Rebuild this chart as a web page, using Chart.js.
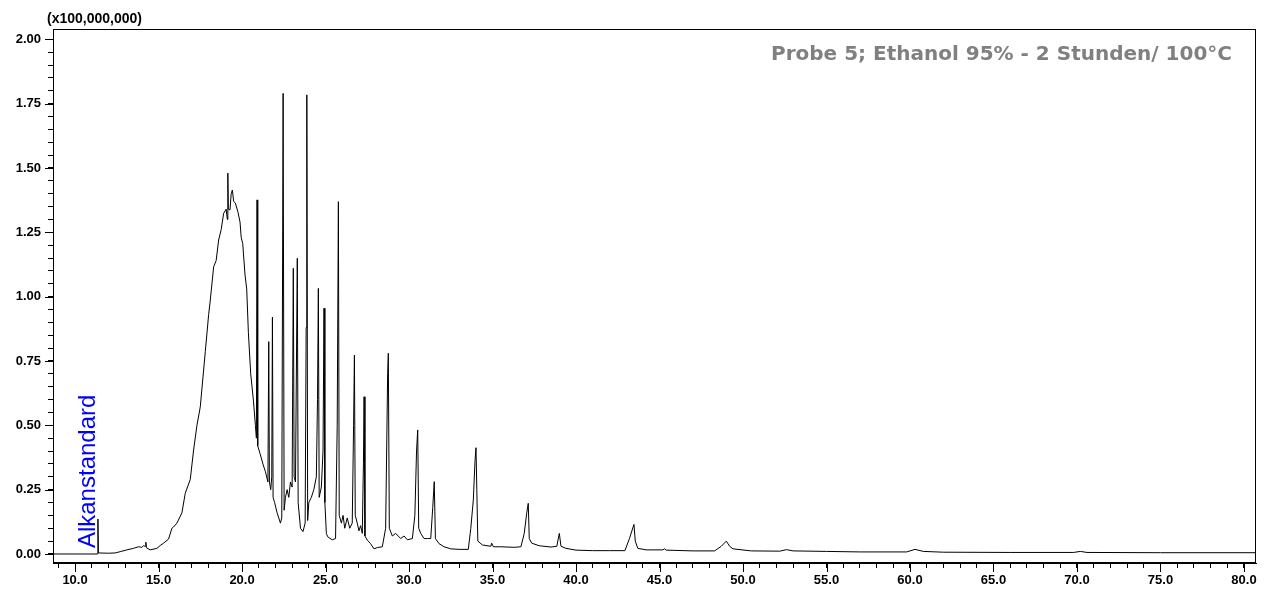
<!DOCTYPE html>
<html>
<head>
<meta charset="utf-8">
<script src="https://cdn.jsdelivr.net/npm/chart.js@4.4.1/dist/chart.umd.min.js"></script>
<style>
  html, body { margin: 0; padding: 0; background: #fff; }
  #wrap { width: 1271px; height: 593px; }
</style>
</head>
<body>
<div id="wrap"><canvas id="kromatogram" width="1271" height="593"></canvas></div>
<script>
// retention time (min) / signal (x100,000,000)
const waktuAwal = [8.7, 11.33, 11.37, 11.40, 12.0, 12.4, 12.7, 13.1, 13.5, 13.8, 14.0, 14.1, 14.2, 14.24, 14.28, 14.5, 14.9, 15.1, 15.3, 15.6, 15.8, 15.9, 16.1, 16.4, 16.6, 16.9, 17.1, 17.3, 17.5, 17.8, 18.0, 18.1, 18.3, 18.45, 18.6, 18.75, 18.9, 19.05, 19.12, 19.15, 19.18, 19.28, 19.35, 19.42, 19.5, 19.6, 19.75, 19.88, 19.95, 20.04, 20.18, 20.28, 20.38, 20.52, 20.68, 20.8, 20.86];
const sinyalAwal = [0, 0, 0.136, 0.004, 0.003, 0.004, 0.009, 0.016, 0.022, 0.028, 0.026, 0.032, 0.030, 0.046, 0.024, 0.016, 0.022, 0.033, 0.042, 0.058, 0.10, 0.105, 0.12, 0.16, 0.236, 0.29, 0.404, 0.50, 0.572, 0.786, 0.93, 0.987, 1.116, 1.14, 1.22, 1.26, 1.324, 1.34, 1.30, 1.48, 1.34, 1.337, 1.40, 1.414, 1.37, 1.364, 1.33, 1.29, 1.23, 1.207, 1.084, 1.03, 0.86, 0.70, 0.598, 0.50, 0.45];

const waktuTengah = [20.90, 20.94, 21.08, 21.25, 21.40, 21.55, 21.60, 21.64, 21.72, 21.78, 21.82, 21.86, 21.95, 22.10, 22.30, 22.38, 22.46, 22.52, 22.60, 22.70, 22.80, 22.90, 23.0, 23.07, 23.12, 23.20, 23.31, 23.36, 23.50, 23.65, 23.78, 23.84, 23.88, 23.93, 24.0, 24.15, 24.3, 24.45, 24.52, 24.57, 24.62, 24.75, 24.85, 24.91, 24.96, 25.05, 25.13, 25.40, 25.60, 25.70, 25.77, 25.82, 25.95, 26.05, 26.15, 26.30, 26.45, 26.60, 26.68, 26.73, 26.78, 26.9, 27.0, 27.1, 27.2, 27.27, 27.31, 27.36, 27.5, 27.7, 27.9, 28.1, 28.4, 28.6, 28.72, 28.76, 28.82];
const sinyalTengah = [1.376, 0.42, 0.39, 0.35, 0.32, 0.28, 0.825, 0.28, 0.25, 0.30, 0.92, 0.22, 0.20, 0.16, 0.12, 0.14, 1.79, 0.17, 0.22, 0.25, 0.22, 0.28, 0.26, 1.11, 0.30, 0.28, 1.149, 0.20, 0.10, 0.087, 0.12, 0.88, 1.784, 0.13, 0.20, 0.22, 0.25, 0.30, 0.60, 1.032, 0.22, 0.26, 0.40, 0.955, 0.20, 0.08, 0.067, 0.055, 0.06, 0.50, 1.369, 0.15, 0.12, 0.15, 0.10, 0.14, 0.10, 0.12, 0.50, 0.773, 0.15, 0.12, 0.09, 0.11, 0.08, 0.35, 0.611, 0.07, 0.054, 0.04, 0.02, 0.025, 0.028, 0.10, 0.70, 0.78, 0.10];

const waktuAkhir = [29.0, 29.2, 29.5, 29.7, 29.9, 30.2, 30.35, 30.45, 30.52, 30.58, 30.7, 30.9, 31.1, 31.3, 31.42, 31.51, 31.58, 31.8, 32.1, 32.5, 33.0, 33.55, 33.7, 33.85, 33.95, 34.01, 34.06, 34.12, 34.4, 34.9, 34.95, 35.05, 35.5, 36.3, 36.7, 36.9, 37.05, 37.14, 37.2, 37.35, 37.8, 38.5, 38.85, 39.0, 39.1, 39.4, 40.0, 41.0, 42.0, 42.93, 43.2, 43.47, 43.55, 43.7, 44.2, 45.2, 45.3, 45.4, 47.0, 48.3, 48.7, 49.0, 49.2, 49.4, 50.5, 52.2, 52.6, 53.0, 55.0, 57.0, 59.8, 60.3, 60.8, 62.0, 66.0, 69.8, 70.2, 70.6, 75.0, 80.7];
const sinyalAkhir = [0.07, 0.08, 0.06, 0.07, 0.055, 0.06, 0.15, 0.40, 0.482, 0.10, 0.08, 0.06, 0.06, 0.06, 0.18, 0.281, 0.06, 0.04, 0.028, 0.02, 0.018, 0.018, 0.10, 0.21, 0.36, 0.413, 0.25, 0.05, 0.035, 0.030, 0.042, 0.028, 0.028, 0.026, 0.028, 0.08, 0.16, 0.197, 0.06, 0.042, 0.032, 0.027, 0.03, 0.08, 0.03, 0.022, 0.015, 0.013, 0.013, 0.013, 0.06, 0.115, 0.05, 0.022, 0.016, 0.016, 0.02, 0.015, 0.012, 0.012, 0.03, 0.05, 0.03, 0.02, 0.012, 0.011, 0.017, 0.012, 0.010, 0.008, 0.008, 0.018, 0.010, 0.007, 0.006, 0.006, 0.010, 0.006, 0.005, 0.005];

const judulSampel = 'Probe 5; Ethanol 95% - 2 Stunden/ 100°C';
const labelStandar = 'Alkanstandard';
const labelSkala = '(x100,000,000)';

const waktu = waktuAwal.concat(waktuTengah, waktuAkhir);
const sinyal = sinyalAwal.concat(sinyalTengah, sinyalAkhir);
const titik = waktu.map((t, i) => ({ x: t, y: sinyal[i] }));

const fontTick = { family: "'Liberation Sans', Arial, sans-serif", size: 13, weight: 'bold' };

function isMajor(v, step) {
    return Math.abs(v / step - Math.round(v / step)) < 1e-6;
}

const bingkai = {
    id: 'bingkai',
    afterDraw(chart) {
        const { ctx, chartArea: a, scales } = chart;
        ctx.save();
        ctx.strokeStyle = '#000';
        ctx.lineWidth = 1;
        ctx.strokeRect(Math.round(a.left) + 0.5, Math.round(a.top) + 0.5, Math.round(a.width) - 1, Math.round(a.height) - 1);

        // major ticks are longer than the minor ones
        ctx.beginPath();
        scales.x.ticks.forEach(t => {
            if (isMajor(t.value, 5)) {
                const px = Math.round(scales.x.getPixelForValue(t.value)) + 0.5;
                ctx.moveTo(px, a.bottom);
                ctx.lineTo(px, a.bottom + 9);
            }
        });
        scales.y.ticks.forEach(t => {
            if (isMajor(t.value, 0.25)) {
                const py = Math.round(scales.y.getPixelForValue(t.value)) + 0.5;
                ctx.moveTo(a.left, py);
                ctx.lineTo(a.left - 8, py);
            }
        });
        ctx.stroke();

        ctx.fillStyle = '#000';
        ctx.font = "bold 14px 'Liberation Sans', Arial, sans-serif";
        ctx.textAlign = 'left';
        ctx.textBaseline = 'middle';
        ctx.fillText(labelSkala, 47, 19);

        ctx.fillStyle = '#808080';
        ctx.font = "bold 20px 'DejaVu Sans', Verdana, sans-serif";
        ctx.textAlign = 'right';
        ctx.fillText(judulSampel, a.right - 24, 55);

        const sx = scales.x.getPixelForValue(10.77);
        const sy = scales.y.getPixelForValue(0.023);
        ctx.translate(sx, sy);
        ctx.rotate(-Math.PI / 2);
        ctx.fillStyle = '#0000ff';
        ctx.font = "24px 'Liberation Sans', Arial, sans-serif";
        ctx.textAlign = 'left';
        ctx.textBaseline = 'middle';
        ctx.fillText(labelStandar, 0, 0);
        ctx.restore();
    }
};

new Chart(document.getElementById('kromatogram').getContext('2d'), {
    type: 'line',
    data: {
        datasets: [{
            label: 'Signal',
            data: titik,
            borderColor: '#000',
            borderWidth: 1,
            pointRadius: 0,
            tension: 0,
            fill: false
        }]
    },
    options: {
        responsive: false,
        animation: false,
        layout: { padding: { left: 0, top: 29, right: 15, bottom: 0 } },
        plugins: {
            legend: { display: false },
            tooltip: { enabled: false }
        },
        scales: {
            x: {
                type: 'linear',
                min: 8.68,
                max: 80.72,
                afterFit: s => { s.height = 30; },
                border: { color: '#000', width: 1 },
                grid: { drawOnChartArea: false, tickLength: 5, color: '#000' },
                ticks: {
                    stepSize: 1,
                    includeBounds: false,
                    autoSkip: false,
                    maxRotation: 0,
                    padding: 5,
                    color: '#000',
                    font: fontTick,
                    callback: v => isMajor(v, 5) ? v.toFixed(1) : ''
                }
            },
            y: {
                min: -0.035,
                max: 2.04,
                afterFit: s => { s.width = 53; },
                border: { color: '#000', width: 1 },
                grid: { drawOnChartArea: false, tickLength: 5, color: '#000' },
                ticks: {
                    stepSize: 0.05,
                    includeBounds: false,
                    autoSkip: false,
                    padding: 7,
                    color: '#000',
                    font: fontTick,
                    callback: v => isMajor(v, 0.25) ? v.toFixed(2) : ''
                }
            }
        }
    },
    plugins: [bingkai]
});
</script>
</body>
</html>
